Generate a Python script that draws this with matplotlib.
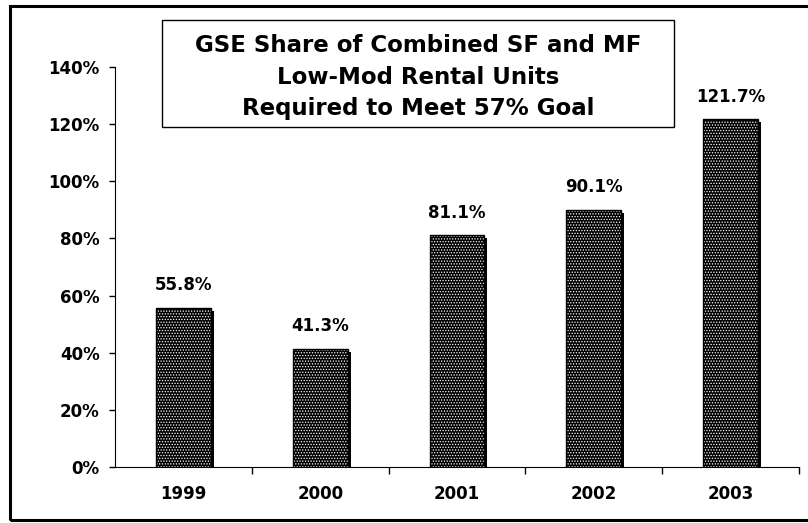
import matplotlib.pyplot as plt
from matplotlib.patches import Rectangle

years = ['1999', '2000', '2001', '2002', '2003']
shares = [55.8, 41.3, 81.1, 90.1, 121.7]
title_lines = ['GSE Share of Combined SF and MF',
               'Low-Mod Rental Units',
               'Required to Meet 57% Goal']

W, H = 808, 523
fig = plt.figure(figsize=(W / 100, H / 100), dpi=100)
plt.rcParams['hatch.linewidth'] = 0.6

# axes placed to match the pixel layout of the original
ax = fig.add_axes([115 / W, (H - 467) / H, (799 - 115) / W, 400 / H])

x = list(range(len(years)))
bw = 0.40
# shadow: a few pixels right and down
dx = 3 / 136.8
dy = 3 / (400 / 140)
ax.bar([i + dx for i in x], [v - dy for v in shares], width=bw,
       color='black', linewidth=0, zorder=1)
ax.bar(x, shares, width=bw, color='black', edgecolor='white',
       hatch='......', linewidth=0, zorder=2)
ax.bar(x, shares, width=bw, fill=False, edgecolor='black',
       linewidth=1.0, zorder=3)

for i, v in zip(x, shares):
    ax.annotate(f'{v:.1f}%', (i, v), xytext=(0, 12.7),
                textcoords='offset points', ha='center', va='baseline',
                fontsize=12, fontweight='bold')

ax.set_xlim(-0.5, len(years) - 0.5)
ax.set_ylim(0, 140)
ax.set_yticks(range(0, 141, 20))
ax.set_yticklabels([f'{t}%' for t in range(0, 141, 20)])
ax.set_xticks(x)
ax.set_xticklabels(years)
ax.set_xticks([i + 0.5 for i in x], minor=True)
ax.tick_params(axis='x', which='major', length=0, pad=13)
ax.tick_params(axis='x', which='minor', length=5, width=1, direction='out')
ax.tick_params(axis='y', length=4, width=1, direction='out', pad=7)
for lab in ax.get_xticklabels() + ax.get_yticklabels():
    lab.set_fontsize(12)
    lab.set_fontweight('bold')
ax.spines['top'].set_visible(False)
ax.spines['right'].set_visible(False)

# title box
fig.patches.append(Rectangle((162 / W, (H - 127) / H), (674 - 162) / W, 107 / H,
                             transform=fig.transFigure, fill=False,
                             edgecolor='black', linewidth=1.0))
fig.text(418 / W, (H - 77) / H, '\n'.join(title_lines), ha='center',
         va='center', multialignment='center', fontsize=16.5,
         fontweight='bold', linespacing=1.5)

# outer frame
fig.patches.append(Rectangle((10 / W, (H - 519.5) / H), 1.0, 514 / H,
                             transform=fig.transFigure, fill=False,
                             edgecolor='black', linewidth=2.2))

fig.savefig('out.png', dpi=100)
